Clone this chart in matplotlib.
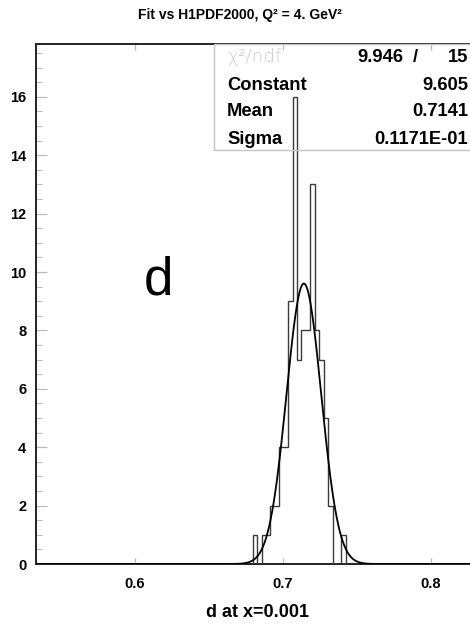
import numpy as np
import matplotlib.pyplot as plt
from matplotlib.ticker import MultipleLocator, FixedLocator
from matplotlib.patches import Rectangle

# replica distribution of d at x=0.001 (lower bin edges, width 0.003)
bin_lo = [0.6795, 0.6825, 0.6855, 0.6885, 0.6915, 0.6945, 0.6975, 0.7005,
          0.7035, 0.7065, 0.7095, 0.7125, 0.7155, 0.7185, 0.7215, 0.7245,
          0.7275, 0.7305, 0.7335, 0.7365, 0.7395]
counts = [1, 0, 1, 1, 2, 2, 4, 4, 9, 16, 7, 8, 8, 13, 8, 7, 5, 2, 0, 0, 1]
bin_w = 0.003

# gaussian fit results
fit_const = 9.605
fit_mean = 0.7141
fit_sigma = 0.01171
chi2, ndf = 9.946, 15

x_ticks = [0.6, 0.7, 0.8]
x_ticklabels = ["0.6", "0.7", "0.8"]

plt.rcParams['font.family'] = ['Liberation Sans', 'DejaVu Sans']

W, H = 470, 624
fig = plt.figure(figsize=(W / 100, H / 100), dpi=100)


def px(x, y):
    return x / W, 1 - y / H


# axes frame runs off the right edge of the canvas
ax = fig.add_axes([36 / W, 60 / H, (478 - 36) / W, 520 / H])
ax.set_xlim(0.53311, 0.83176)
ax.set_ylim(0, 17.81)

edges = np.append(bin_lo, bin_lo[-1] + bin_w)
ax.stairs(counts, edges, color='#3a3a3a', lw=1.0, zorder=3)

xs = np.linspace(0.53311, 0.83176, 1200)
ax.plot(xs, fit_const * np.exp(-0.5 * ((xs - fit_mean) / fit_sigma) ** 2),
        color='black', lw=1.3, zorder=4)

for s in ax.spines.values():
    s.set_linewidth(1.4)
    s.set_color('#222222')

ax.xaxis.set_major_locator(FixedLocator(x_ticks))
ax.set_xticklabels(x_ticklabels)
ax.yaxis.set_major_locator(MultipleLocator(2))
ax.yaxis.set_minor_locator(MultipleLocator(0.5))
ax.tick_params(axis='both', which='both', direction='in', color='#bbbbbb')
ax.tick_params(axis='y', which='major', length=8, width=0.9, pad=7)
ax.tick_params(axis='y', which='minor', length=4, width=0.8)
ax.tick_params(axis='x', which='major', length=4, width=0.9, top=True, pad=9)
for lab in ax.get_xticklabels() + ax.get_yticklabels():
    lab.set_fontweight('bold')
    lab.set_fontsize(10.5)

ax.set_xlabel("d at x=0.001", fontsize=13, fontweight='bold', labelpad=10)

fig.text(*px(240, 15), "Fit vs H1PDF2000, Q\u00b2 = 4. GeV\u00b2",
         ha='center', va='center', fontsize=10, fontweight='bold')

ax.text(0.276, 0.545, "d", transform=ax.transAxes, ha='center', va='center',
        fontsize=38)

# statistics box, hanging from the top of the frame
x0, y0 = px(214, 150)
_, y1 = px(214, 44)
fig.patches.append(Rectangle((x0, y0), 1.2 - x0, y1 - y0, transform=fig.transFigure,
                             fill=False, edgecolor='#c4c4c4', lw=1.0, zorder=1))
rows = [("\u03c7\u00b2/ndf", None, 57),
        ("Constant", f"{fit_const:.3f}", 85),
        ("Mean", f"{fit_mean:.4f}", 112),
        ("Sigma", "0.1171E-01", 139)]
fs = 13.2
for name, val, yy in rows:
    if val is None:
        fig.text(*px(227, yy), name, ha='left', va='center', fontsize=fs,
                 color='#cccccc', family=['DejaVu Sans'], fontweight='light')
        fig.text(*px(403, yy), f"{chi2:.3f}", ha='right', va='center',
                 fontsize=fs, fontweight='bold')
        fig.text(*px(415, yy), "/", ha='center', va='center',
                 fontsize=fs, fontweight='bold')
        fig.text(*px(468, yy), f"{ndf}", ha='right', va='center',
                 fontsize=fs, fontweight='bold')
    else:
        fig.text(*px(227, yy), name, ha='left', va='center', fontsize=fs,
                 fontweight='bold')
        fig.text(*px(468, yy), val, ha='right', va='center', fontsize=fs,
                 fontweight='bold')

fig.savefig("out.png", dpi=100)
